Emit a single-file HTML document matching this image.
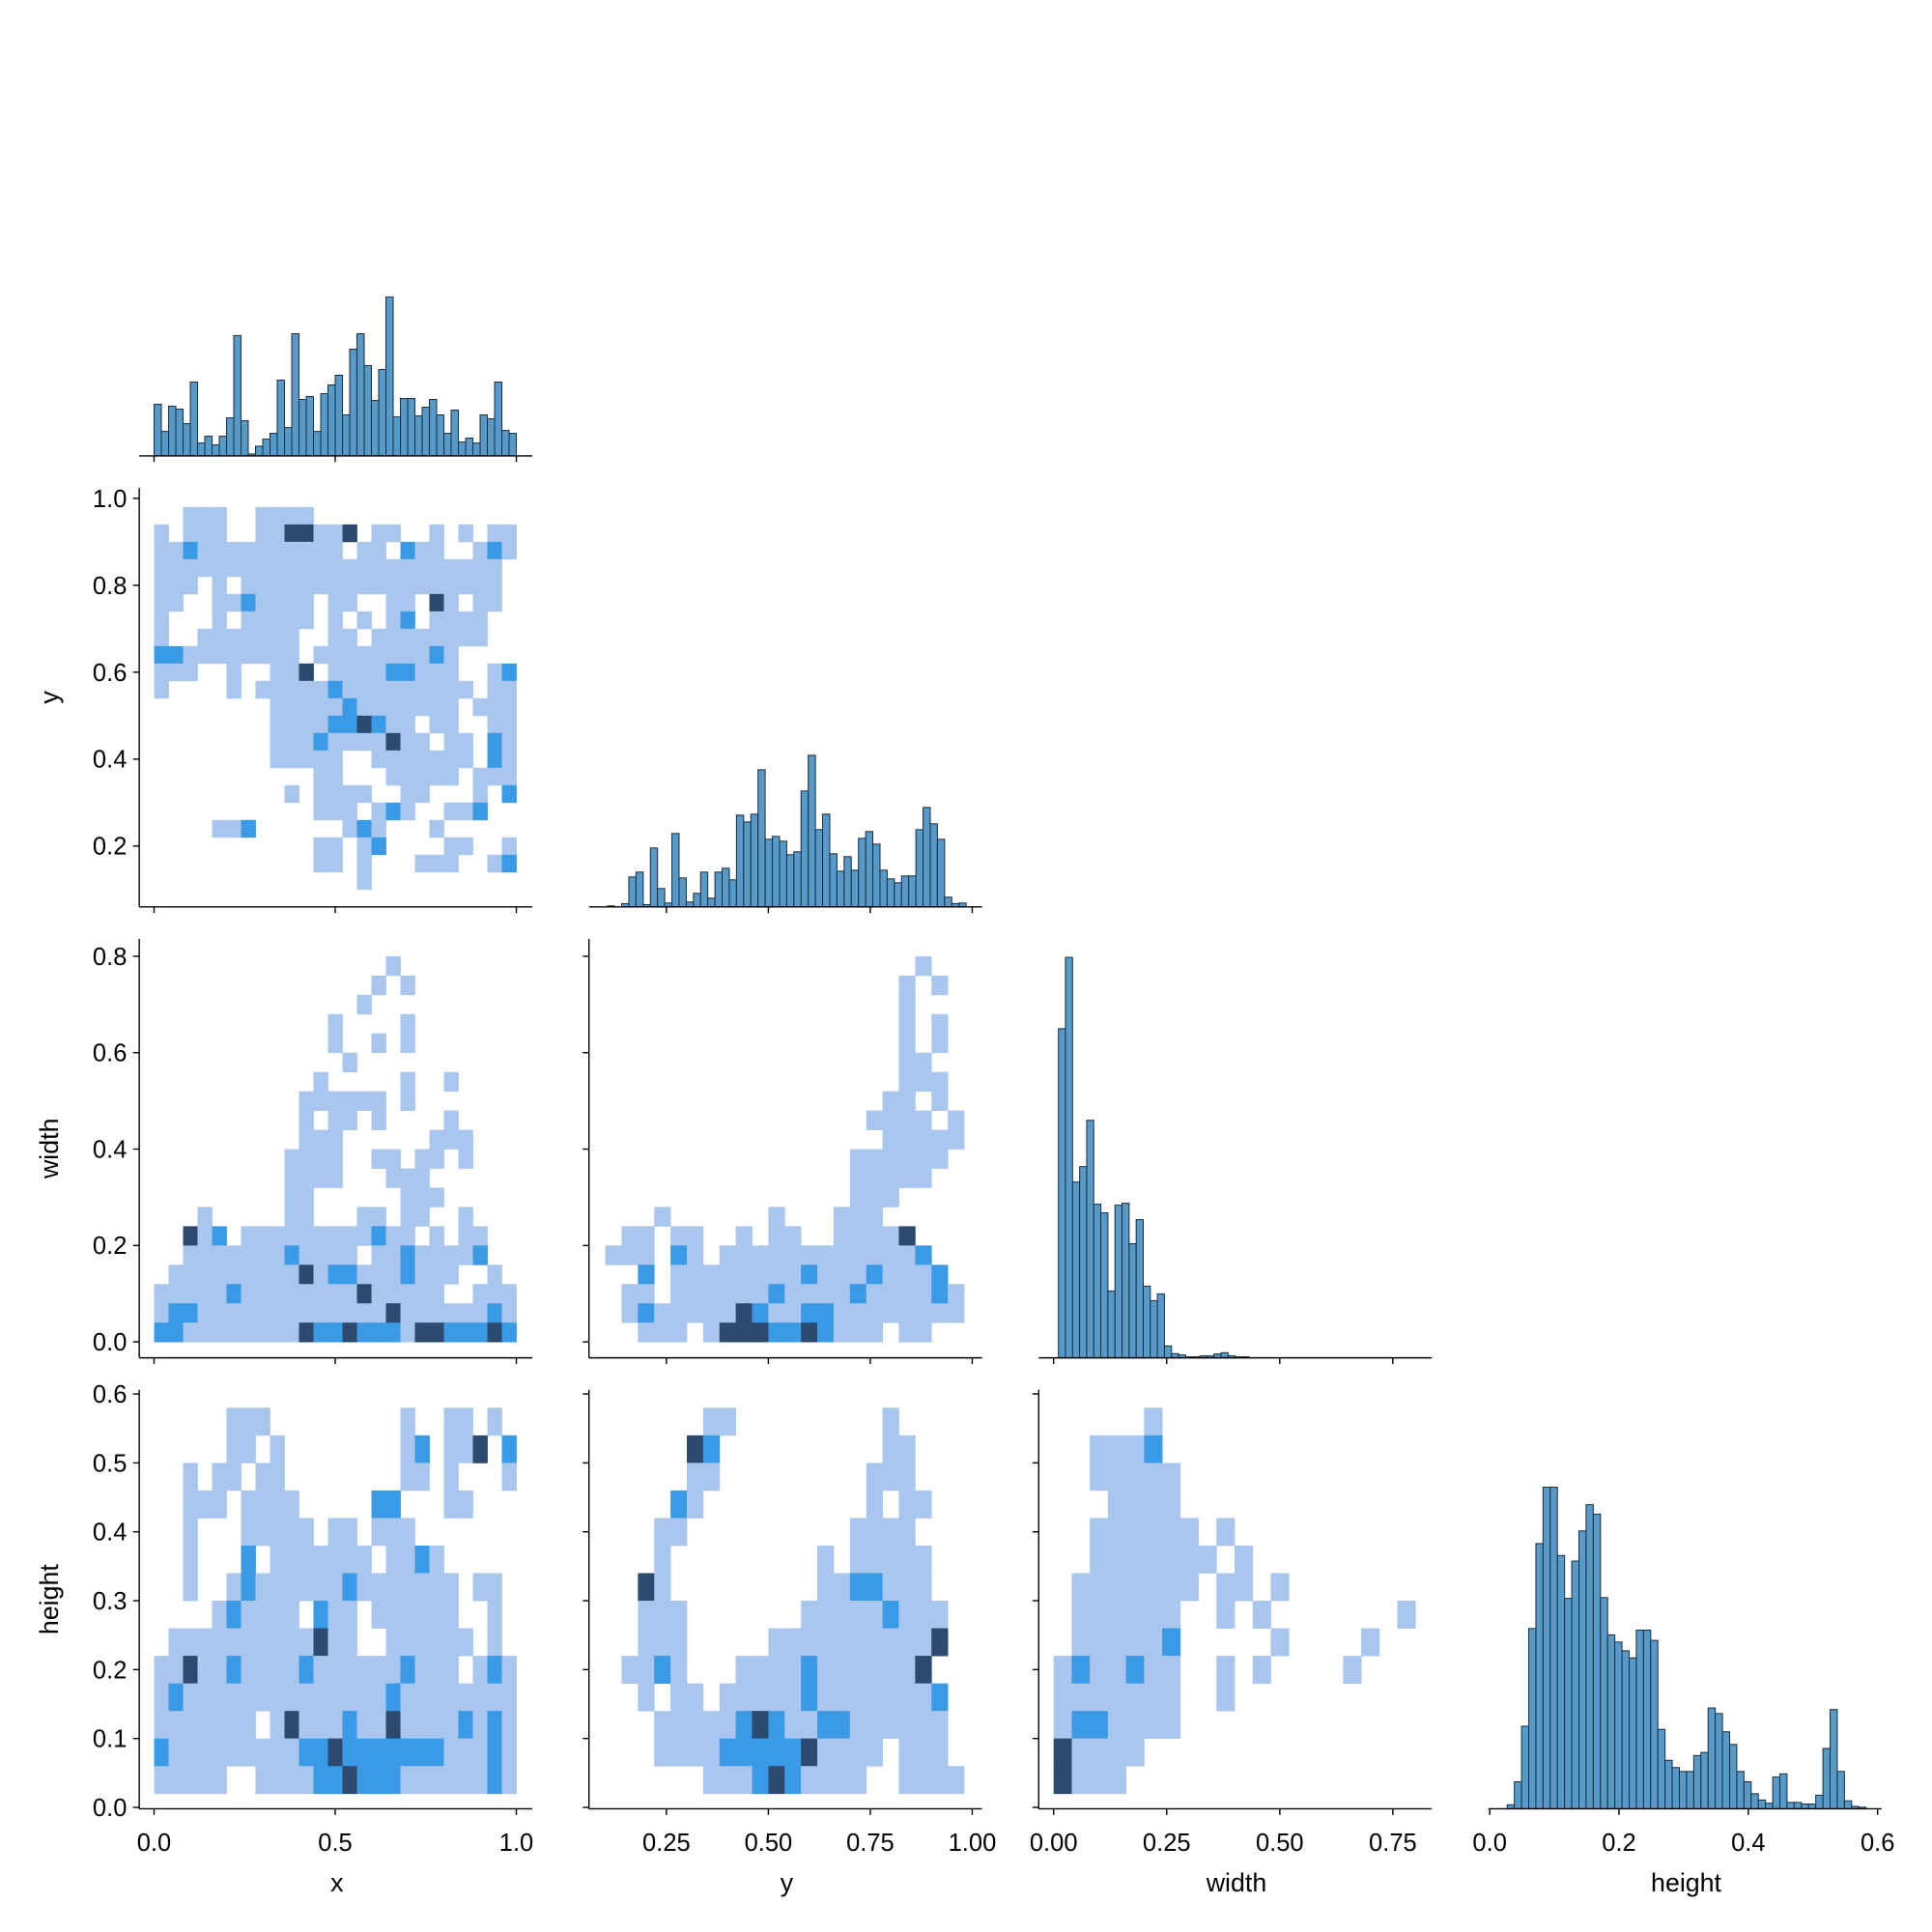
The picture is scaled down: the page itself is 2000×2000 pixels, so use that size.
<!DOCTYPE html>
<html><head><meta charset="utf-8"><style>
html,body{margin:0;padding:0;background:#fff;}
svg{display:block;}
text{font-family:"Liberation Sans","DejaVu Sans",sans-serif;fill:#000;}
</style></head><body>
<svg id="chart" width="2000" height="2000" viewBox="0 0 1568 1568" xmlns="http://www.w3.org/2000/svg"></svg>
<script>
// ---------- data ----------
const varNames = ["x","y","width","height"];
const varRanges = [[-0.041,1.044],[0.06,1.024],[-0.033,0.836],[-0.002,0.606]];
const xTicks = [0,0.5,1.0];
const xTickLabels = ["0.0","0.5","1.0"];
const yAsXTicks = [0.25,0.5,0.75,1.0];
const yAsXTickLabels = ["0.25","0.50","0.75","1.00"];
const yAsYTicks = [0.2,0.4,0.6,0.8,1.0];
const yAsYTickLabels = ["0.2","0.4","0.6","0.8","1.0"];
const widthXTicks = [0,0.25,0.5,0.75];
const widthXTickLabels = ["0.00","0.25","0.50","0.75"];
const widthYTicks = [0,0.2,0.4,0.6,0.8];
const widthYTickLabels = ["0.0","0.2","0.4","0.6","0.8"];
const heightXTicks = [0,0.2,0.4,0.6];
const heightXTickLabels = ["0.0","0.2","0.4","0.6"];
const heightYTicks = [0,0.1,0.2,0.3,0.4,0.5,0.6];
const heightYTickLabels = ["0.0","0.1","0.2","0.3","0.4","0.5","0.6"];

const xHistCounts = [160,76,154,145,100,229,40,61,34,61,118,373,109,6,30,52,70,235,88,379,175,184,76,193,220,250,127,331,379,280,172,268,493,121,178,178,124,151,175,127,70,142,43,55,40,127,115,229,79,70];
const xHistStart = 0.0, xHistBin = 0.02;
const yHistCounts = [3,0,10,93,108,7,183,57,12,228,90,15,42,108,27,108,120,84,285,264,288,426,210,219,204,162,171,360,471,240,288,165,111,156,114,213,234,195,114,87,75,96,96,240,309,258,210,30,10,12];
const yHistStart = 0.105, yHistBin = 0.0176;
const widthHistCounts = [1024,1246,547,595,739,478,451,208,475,481,355,430,223,178,199,37,13,9,3,3,6,6,12,16,6,3,3];
const widthHistStart = 0.0106, widthHistBin = 0.01563;
const heightHistCounts = [5,34,104,227,334,405,405,319,265,312,350,383,371,266,219,210,199,190,225,225,212,100,61,52,47,47,67,71,127,120,97,81,47,34,19,11,7,40,44,8,8,6,6,17,76,125,47,10,3,2];
const heightHistStart = 0.027, heightHistBin = 0.0111;

// 2D histograms: rows from top; '.' empty, a light, b medium, c dark
const gridXY = ["..aaa..aaaa..............","a.aaa..aaccaac.aa..a.a.aa","aabaaaaaaaaaa.aa.baa..aba","aaaaaaaaaaaaaaaaaaaaaaaa.","aaa.a.aaaaaaaaaaaaaaaaaa.","aa..aabaaaa.aa..aa.ca.aa.","a...a.aaaaa.a.a.ab.aaaa..","a..aaaaaaa..aa.aaaaaaaa..","bbaaaaaaaa.aaaaaaaaba....","aaa..a..aac.aaaabbaaa..ab","a....a.aaaaabaaaaaaaaa.aa","........aaaaabaaaaaaa.aaa","........aaaabbcbaa.aa..aa","........aaabaaaacaa.aa.ba","........aaaaa..aaaaaaa.ba","...........aa...aaaaa.aaa",".........a.aaaa..aa...a.b","...........aaa.aba..aab..","....aab......aba...a.....","...........aa.ab....aa..a","...........aa.a...aaa..ab","..............a.........."];
const gridXYAxes = [0.0,0.04,0.98,0.04];
const gridXW = ["................a........","...............a.a.......","..............a..........","............a....a.......","............a..a.a.......",".............a...........","...........a.....a..a....","..........aaaaaa.a.......","..........a.aa.a....a....","..........aaa......aaa...",".........aaaa..aa.aa.a...",".........aaaa...aaa......",".........aa......aaa.....","...a.....aa...aa.aa..a...","..cab.aaaaaaaaabaa.a.aa..","..aaaaaaabaaaa.aabaaaab..",".aaaaaaaaacabbaaabaaa..a.","aaaaabaaaaaaaacaaaaa..aaa","abbaaaaaaaaaaaaacaaaaaaba","bbaaaaaaaacbbcbbbaccbbbcb"];
const gridXWAxes = [0.0,0.04,0.8,0.04];
const gridXH = [".....aaa.........a..aa.a.",".....aa.a........ab.aac.b","..a.aa.aa........aa.a...a","..aaa.aaaa.....bb...aa...","..a...aaaaa.aa.aaa.......","..a...b.aaaaaaa.aaba.....","..a..abaaaaaabaaaaaaa.aa.","....abaaaa.baa.aaaaaa..a.",".aaaaaaaaaacaa..aaaaaa.a.","aacaabaaaabaaaaaabaaa.aba","abaaaaaaaaaaaaaabaaaaaaaa","aaaaaaa.acaaabaacaaaababa","baaaaaaaaabbcbbbbbbbaaaba","aaaaa..aaaabbcbbbaaaaaaba"];
const gridXHAxes = [0.0,0.04,0.58,0.04];
const gridYW = ["...................a..","..................a.a.","..................a...","..................a.a.","..................a.a.","..................aa..","..................aaa.",".................aa.a.","................aaaa.a",".................aaaaa","...............aaaaaa.","...............aaaaa..","...............aaa....","...a......a...aaa.....",".aa.aa..a.aa..aaaac...","aaa.ba.aaaaaaaaaaaab..","..b.aaaaaaaabaaabaaab.",".aa.aaaaaabaaaabaaaaba",".abaaaaacbaabbaaaaaaaa","..aaa.acccbbcbaaa.aa.."];
const gridYWAxes = [0.1,0.04,0.8,0.04];
const gridYH = ["......aa.........a....",".....cb..........aa...",".....aa.........aaa...","....ba..........a.aa..","...aa..........aaaa...","...a.........a.aaaaa..","..ca.........aabbaaa..","..aaa.......aaaaabaaa.","..aaa.....aaaaaaaaaac.",".aaba...aaaabaaaaaac..","..a.aa.aaaaabaaaaaaab.","...aaaaabcbaabbaaaaaa.","...aaaabbbbbcaaaa.aaa.","......aaabcbaaaa..aaaa"];
const gridYHAxes = [0.1,0.04,0.58,0.04];
const gridWH = [".....a..............","..aaab..............","..aaaaa.............","...aaaa.............","..aaaaaa.a..........","..aaaaaaa.a.........",".aaaaaaa.aa.a.......",".aaaaaa..a.a.......a",".aaaaab.....a....a..","abaabaa..a.a....a...","aaaaaaa..a..........","abbaaaa.............","caaaa...............","caaa................"];
const gridWHAxes = [0.0,0.04,0.58,0.04];

// ---------- layout ----------
const NS = "http://www.w3.org/2000/svg";
const svg = document.getElementById("chart");
const colLeft = [113,478,843,1208], axW = 319;
const rowTop = [30,396,762,1128], axH = 340;
const cellColors = {a:"#a9c6ee", b:"#3a9ae5", c:"#2b4a6e"};

function mk(tag, attrs, parent){
  const e = document.createElementNS(NS, tag);
  for (const k in attrs) e.setAttribute(k, attrs[k]);
  (parent||svg).appendChild(e);
  return e;
}
function sx(col, v){ const r = varRanges[col]; return colLeft[col] + (v - r[0])/(r[1]-r[0])*axW; }
function sy(row, v){ const r = varRanges[row]; return rowTop[row] + axH - (v - r[0])/(r[1]-r[0])*axH; }

function drawGrid(row, col, rows, ax, name){
  const g = mk("g", {});
  
  
  for (let i=0;i<rows.length;i++){
    for (let j=0;j<rows[i].length;j++){
      const ch = rows[i][j];
      if (ch === ".") continue;
      const x0 = ax[0] + j*ax[1], y1 = ax[2] - i*ax[3];
      const px = sx(col, x0), px2 = sx(col, x0+ax[1]);
      const py = sy(row, y1), py2 = sy(row, y1-ax[3]);
      const r = mk("rect", {x:px, y:py, width:px2-px+0.3, height:py2-py+0.3, fill:cellColors[ch]}, g);
      
      
    }
  }
}

function drawHist(idx, counts, start, bin, maxPx, name){
  const g = mk("g", {});
  
  
  const mx = Math.max(...counts);
  const base = rowTop[idx] + axH;
  counts.forEach((c,i)=>{
    if (c <= 0) return;
    const x1 = sx(idx, start + i*bin), x2 = sx(idx, start + (i+1)*bin);
    const h = c/mx*maxPx;
    const r = mk("rect", {x:x1, y:base-h, width:x2-x1, height:h, fill:"#5799c8", stroke:"#1e2f3c", "stroke-width":0.8}, g);
    
    
  });
}

const xTickSets = [[xTicks,xTickLabels],[yAsXTicks,yAsXTickLabels],[widthXTicks,widthXTickLabels],[heightXTicks,heightXTickLabels]];
const yTickSets = [null,[yAsYTicks,yAsYTickLabels],[widthYTicks,widthYTickLabels],[heightYTicks,heightYTickLabels]];

function drawAxes(row, col){
  const g = mk("g", {});
  
  
  const L = colLeft[col], B = rowTop[row]+axH;
  mk("line", {x1:L, y1:B, x2:L+axW, y2:B, stroke:"#000", "stroke-width":1.1}, g);
  const xs = xTickSets[col];
  xs[0].forEach((v,i)=>{
    const x = sx(col, v);
    mk("line", {x1:x, y1:B, x2:x, y2:B+5, stroke:"#000", "stroke-width":1.1}, g);
    if (row === 3){
      const t = mk("text", {x:x, y:B+34, "font-size":20, "text-anchor":"middle"}, g);
      t.textContent = xs[1][i];
      
      
    }
  });
  if (row !== col){
    const T = rowTop[row];
    mk("line", {x1:L, y1:T, x2:L, y2:B, stroke:"#000", "stroke-width":1.1}, g);
    const ys = yTickSets[row];
    ys[0].forEach((v,i)=>{
      const y = sy(row, v);
      mk("line", {x1:L, y1:y, x2:L-5, y2:y, stroke:"#000", "stroke-width":1.1}, g);
      if (col === 0){
        const t = mk("text", {x:L-10, y:y+7, "font-size":20, "text-anchor":"end"}, g);
        t.textContent = ys[1][i];
        
        
      }
    });
  }
}

drawHist(0, xHistCounts, xHistStart, xHistBin, 129, 'hist-x');
drawHist(1, yHistCounts, yHistStart, yHistBin, 123, 'hist-y');
drawHist(2, widthHistCounts, widthHistStart, widthHistBin, 325, 'hist-width');
drawHist(3, heightHistCounts, heightHistStart, heightHistBin, 261, 'hist-height');

drawGrid(1,0,gridXY,gridXYAxes,'heatmap-x-y');
drawGrid(2,0,gridXW,gridXWAxes,'heatmap-x-width');
drawGrid(3,0,gridXH,gridXHAxes,'heatmap-x-height');
drawGrid(2,1,gridYW,gridYWAxes,'heatmap-y-width');
drawGrid(3,1,gridYH,gridYHAxes,'heatmap-y-height');
drawGrid(3,2,gridWH,gridWHAxes,'heatmap-width-height');

for (let r=0;r<4;r++) for (let c=0;c<=r;c++) drawAxes(r,c);

// axis titles
varNames.forEach((n,i)=>{
  const t = mk("text", {x:colLeft[i]+axW/2 + 1, y:1535, "font-size":21, "text-anchor":"middle"});
  t.textContent = n;
  
  
  if (i>0){
    const cy = rowTop[i]+axH/2;
    const t2 = mk("text", {x:47, y:cy, "font-size":21, "text-anchor":"middle", transform:"rotate(-90 47 "+cy+")"});
    t2.textContent = n;
    
    
  }
});
</script>
</body></html>
